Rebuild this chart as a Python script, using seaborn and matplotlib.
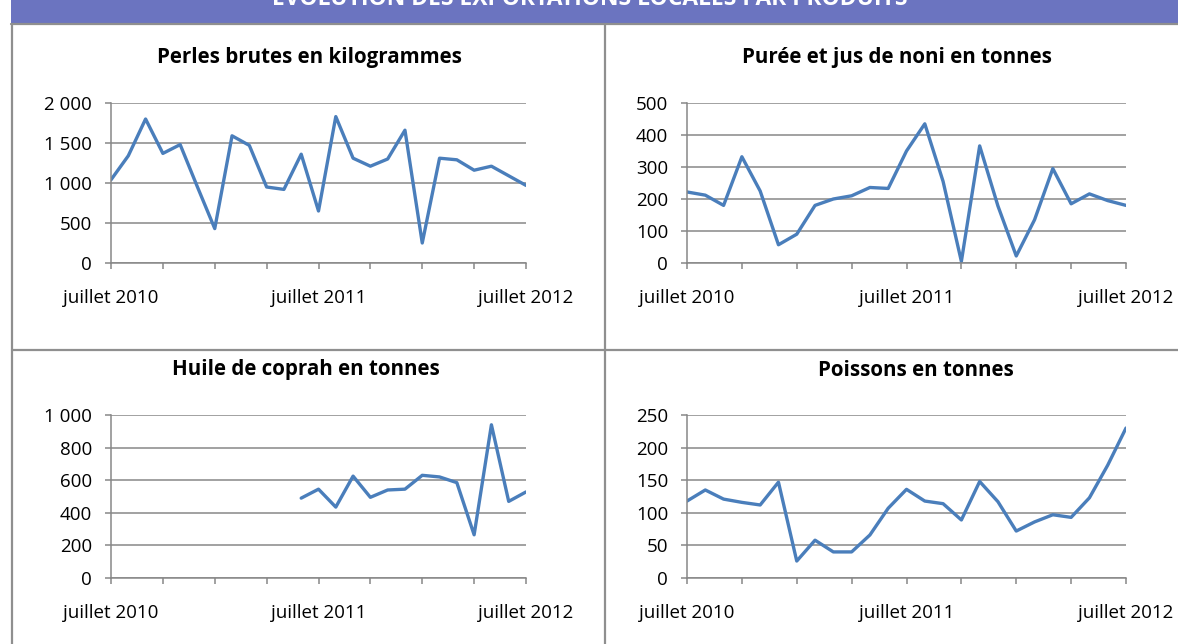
import numpy as np
import pandas as pd
import matplotlib
matplotlib.use('Agg')
import matplotlib.pyplot as plt
from matplotlib.ticker import FuncFormatter
from matplotlib.patches import Rectangle
from matplotlib.lines import Line2D
import seaborn as sns

# ── Données (lecture du graphique, juillet 2010 -> juillet 2012) ──
mois = list(range(25))
pos_ticks = list(range(0, 25, 3))
lib_ticks = {0: 'juillet 2010', 12: 'juillet 2011', 24: 'juillet 2012'}

perles = [1040, 1340, 1800, 1370, 1480, 950, 430, 1590, 1470, 950, 920, 1360, 650,
          1830, 1310, 1210, 1300, 1660, 250, 1310, 1290, 1160, 1210, 1090, 970]
noni = [222, 212, 180, 332, 225, 57, 90, 180, 200, 210, 236, 233, 350,
        435, 255, 5, 366, 178, 22, 135, 295, 185, 216, 195, 180]
coprah = [np.nan] * 11 + [490, 545, 435, 625, 495, 540, 545, 630, 620, 585, 265, 940, 470, 528]
poissons = [118, 135, 121, 116, 112, 147, 26, 58, 40, 40, 66, 107, 136,
            118, 114, 89, 148, 117, 72, 86, 97, 93, 123, 173, 230]

titres = ['Perles brutes en kilogrammes', 'Purée et jus de noni en tonnes',
          'Huile de coprah en tonnes', 'Poissons en tonnes']
series = [perles, noni, coprah, poissons]
ymax = [2000, 500, 1000, 250]
ypas = [500, 100, 200, 50]

BLEU = '#4A7EBB'
GRIS = '#878787'
BANDEAU = '#6B74C0'

sns.set_theme(style='white')
plt.rcParams['font.family'] = ['Open Sans', 'DejaVu Sans']

W, H = 1178, 644
fig = plt.figure(figsize=(W / 100, H / 100), dpi=100)

def fx(px): return px / W
def fy(py): return 1 - py / H

# ── Bandeau et cadre du tableau ──
fig.add_artist(Rectangle((fx(11), fy(23)), 1, 23 / H, transform=fig.transFigure,
                         facecolor=BANDEAU, edgecolor='none'))
fig.text(fx(590), fy(5), 'ÉVOLUTION DES EXPORTATIONS LOCALES PAR PRODUITS',
         color='white', fontsize=16.5, fontweight='bold', ha='center', va='baseline')
for (x0, y0, x1, y1) in [(11, 24, W, 24), (12, 24, 12, H), (605, 24, 605, H), (12, 350, W, 350)]:
    fig.add_artist(Line2D([fx(x0), fx(x1)], [fy(y0), fy(y1)], transform=fig.transFigure,
                          color='#8F8F8F', linewidth=1.6))

# ── Emplacements des graphiques (pixels) ──
cadres = [(111, 526, 103, 263), (687, 1126, 103, 263),
          (111, 526, 415, 578), (687, 1126, 415, 578)]
pos_titres = [(309, 58), (897, 58), (306, 370), (916, 370)]

fmt = FuncFormatter(lambda v, p: f'{int(v):,}'.replace(',', ' '))

for i in range(4):
    x0, x1, y0, y1 = cadres[i]
    ax = fig.add_axes([fx(x0), fy(y1), (x1 - x0) / W, (y1 - y0) / H])
    sns.lineplot(x=mois, y=series[i], ax=ax, color=BLEU, linewidth=2.4, errorbar=None)
    ax.set_xlim(0, 24)
    ax.set_ylim(0, ymax[i])
    ax.set_yticks(np.arange(0, ymax[i] + 1, ypas[i]))
    ax.yaxis.set_major_formatter(fmt)
    ax.set_xticks(pos_ticks)
    ax.set_xticklabels([lib_ticks.get(t, '') for t in pos_ticks])
    ax.grid(axis='y', color=GRIS, linewidth=1.1)
    ax.grid(axis='x', visible=False)
    ax.set_axisbelow(True)
    for s in ['top', 'right']:
        ax.spines[s].set_visible(False)
    for s in ['left', 'bottom']:
        ax.spines[s].set_color(GRIS)
        ax.spines[s].set_linewidth(1.1)
    ax.tick_params(axis='y', which='both', left=True, length=4.5, width=1.1,
                   color=GRIS, pad=9, labelsize=13.5, labelcolor='black')
    ax.tick_params(axis='x', which='both', bottom=True, length=4.5, width=1.1,
                   color=GRIS, pad=14, labelsize=13.5, labelcolor='black')
    ax.set_xlabel('')
    ax.set_ylabel('')
    ax.patch.set_alpha(0)
    tx, ty = pos_titres[i]
    fig.text(fx(tx), fy(ty), titres[i], fontsize=14.8, fontweight='bold',
             ha='center', va='center', color='black')

fig.savefig('out.png', dpi=100)
